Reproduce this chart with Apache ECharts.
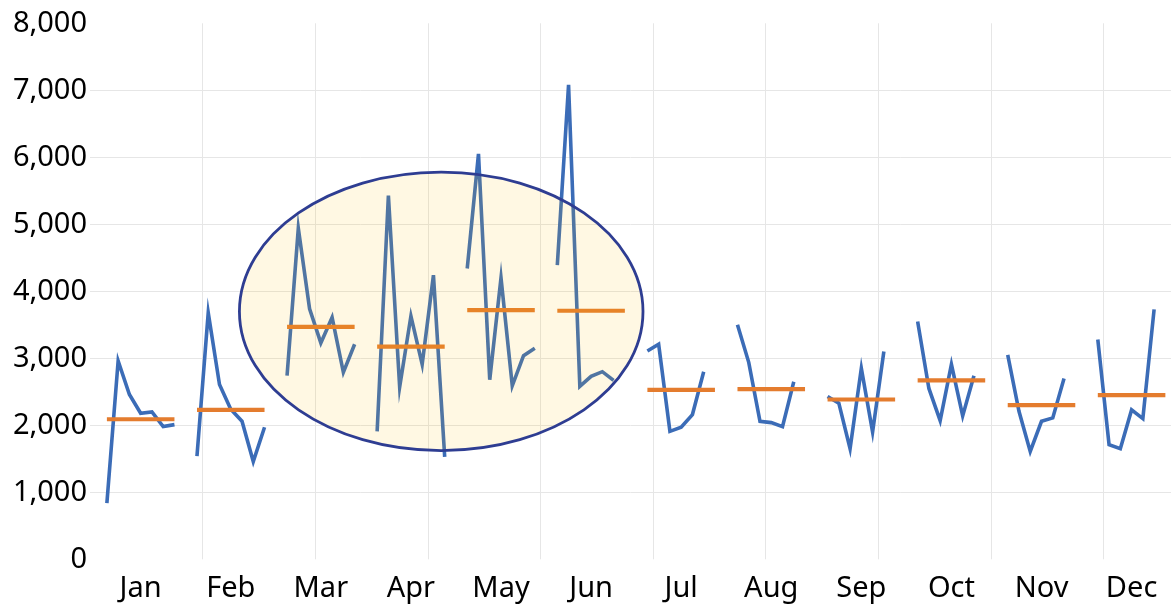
<!DOCTYPE html>
<html>
<head>
<meta charset="utf-8">
<script src="https://cdn.jsdelivr.net/npm/echarts@6/dist/echarts.min.js"></script>
<style>
html,body{margin:0;padding:0;background:#fff;}
#chart{width:1171px;height:608px;}
</style>
</head>
<body>
<div id="chart"></div>
<script>
// ---- data ----
const months = ['Jan','Feb','Mar','Apr','May','Jun','Jul','Aug','Sep','Oct','Nov','Dec'];
const jan = [840, 2960, 2460, 2180, 2200, 1980, 2010];
const feb = [1540, 3680, 2610, 2240, 2060, 1460, 1970];
const mar = [2740, 4940, 3740, 3230, 3610, 2790, 3210];
const apr = [1910, 5430, 2570, 3630, 2910, 4240, 1530];
const may = [4340, 6050, 2680, 4200, 2590, 3040, 3150];
const jun = [4390, 7080, 2580, 2730, 2800, 2670];
const jul = [3110, 3210, 1910, 1970, 2160, 2800];
const aug = [3500, 2940, 2060, 2040, 1980, 2650];
const sep = [2430, 2330, 1650, 2850, 1900, 3100];
const oct = [3550, 2550, 2070, 2910, 2140, 2740];
const nov = [3050, 2210, 1610, 2060, 2110, 2700];
const dec = [3280, 1710, 1650, 2230, 2100, 3730];
const averages = [2090, 2230, 3470, 3175, 3720, 3710, 2530, 2540, 2385, 2670, 2300, 2450];
const yTicks = [0, 1000, 2000, 3000, 4000, 5000, 6000, 7000, 8000];

// ---- build category table ----
const monthly = [jan, feb, mar, apr, may, jun, jul, aug, sep, oct, nov, dec];
const SLOTS = 8, SPAN = 7;
const N = months.length * SLOTS;
const categories = new Array(N).fill('');
const blue = new Array(N).fill(null);
const orange = new Array(N).fill(null);
months.forEach((m, i) => {
  categories[i * SLOTS + 4] = m;
  monthly[i].forEach((v, k) => { blue[i * SLOTS + 1 + k] = v; });
  for (let k = 0; k < SPAN; k++) orange[i * SLOTS + 1 + k] = averages[i];
});

const FONT = 'Noto Sans';
const chart = echarts.init(document.getElementById('chart'), null, {renderer: 'canvas'});
chart.setOption({
  animation: false,
  backgroundColor: '#ffffff',
  grid: {left: 90, top: 23.3, width: 1085, height: 536, containLabel: false},
  xAxis: {
    type: 'category',
    data: categories,
    boundaryGap: true,
    axisLine: {show: false},
    axisTick: {show: false},
    axisLabel: {
      interval: (i, v) => v !== '',
      margin: 15,
      fontSize: 29,
      fontFamily: FONT,
      color: '#000'
    },
    splitLine: {
      show: true,
      interval: (i) => i > 0 && i % 10 === 0,
      lineStyle: {color: '#E6E6E6', width: 1}
    }
  },
  yAxis: {
    type: 'value',
    min: yTicks[0],
    max: yTicks[yTicks.length - 1],
    interval: 1000,
    axisLine: {show: false},
    axisTick: {show: false},
    axisLabel: {
      margin: 3,
      fontSize: 29,
      fontFamily: FONT,
      color: '#000',
      formatter: v => v.toLocaleString('en-US')
    },
    splitLine: {
      show: true,
      showMinLine: false,
      showMaxLine: false,
      lineStyle: {color: '#E6E6E6', width: 1}
    }
  },
  series: [
    {
      type: 'line',
      data: blue,
      connectNulls: false,
      symbol: 'none',
      lineStyle: {color: '#3B6CB7', width: 3.6, join: 'miter'},
      z: 3,
      silent: true
    },
    {
      type: 'line',
      data: orange,
      connectNulls: false,
      symbol: 'none',
      lineStyle: {color: '#E47C2E', width: 4.2, cap: 'butt'},
      z: 4,
      silent: true
    }
  ]
});

// highlight ellipse around Mar–Jun, placed through the axes
const x0 = chart.convertToPixel({xAxisIndex: 0}, 0);
const x1 = chart.convertToPixel({xAxisIndex: 0}, 1);
const w = x1 - x0;
const cx = x0 + (31.19 - 0.5) * w;
const rx = 17.92 * w;
const cyVal = 3700, ryVal = 2078;
const cy = chart.convertToPixel({yAxisIndex: 0}, cyVal);
const ry = chart.convertToPixel({yAxisIndex: 0}, cyVal - ryVal) - cy;
chart.setOption({
  graphic: [{
    type: 'ellipse',
    z: 100,
    silent: true,
    shape: {cx: cx, cy: cy, rx: rx, ry: ry},
    style: {fill: 'rgba(255,192,0,0.11)', stroke: '#2E3D92', lineWidth: 2.8}
  }]
});
</script>
</body>
</html>
